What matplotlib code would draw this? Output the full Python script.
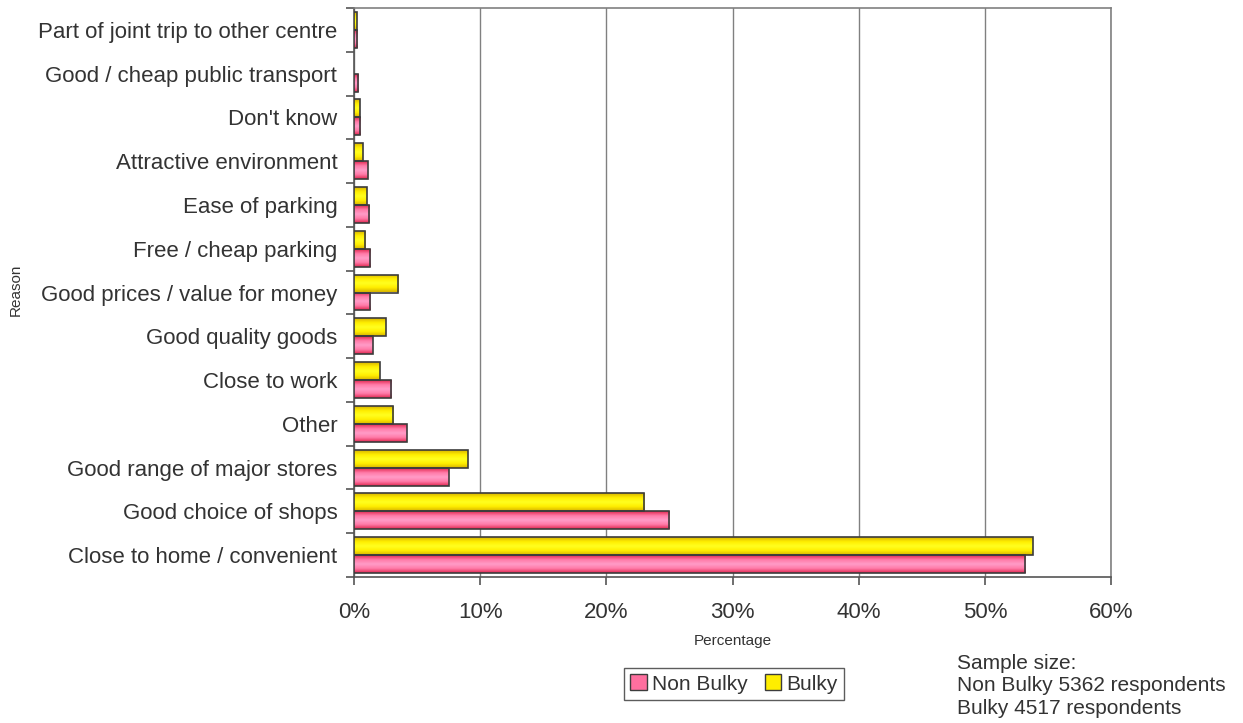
import numpy as np
import matplotlib
matplotlib.use('Agg')
import matplotlib.pyplot as plt
from matplotlib.patches import Rectangle, Patch
from matplotlib.colors import LinearSegmentedColormap

plt.rcParams['font.family'] = ['Liberation Sans', 'DejaVu Sans']

# Reasons for choosing the centre (bottom to top)
reasons = ['Close to home / convenient', 'Good choice of shops',
           'Good range of major stores', 'Other', 'Close to work',
           'Good quality goods', 'Good prices / value for money',
           'Free / cheap parking', 'Ease of parking', 'Attractive environment',
           "Don't know", 'Good / cheap public transport',
           'Part of joint trip to other centre']
non_bulky = [53.2, 25.0, 7.5, 4.2, 2.95, 1.5, 1.3, 1.3, 1.2, 1.1, 0.5, 0.35, 0.25]
bulky = [53.8, 23.0, 9.0, 3.1, 2.05, 2.5, 3.5, 0.9, 1.0, 0.7, 0.45, 0.0, 0.2]
x_ticks = [0, 10, 20, 30, 40, 50, 60]

text_col = '#333333'
pink_cmap = LinearSegmentedColormap.from_list(
    'pink', ['#e02850', '#ff7aa8', '#ff9cc8', '#ff7aa8', '#e02850'])
yellow_cmap = LinearSegmentedColormap.from_list(
    'yellow', ['#d8b400', '#ffee00', '#ffff20', '#ffee00', '#d8b400'])

fig = plt.figure(figsize=(12.43, 7.23), dpi=100)
ax = fig.add_axes([354 / 1243, 1 - 577 / 723, 757 / 1243, 569 / 723])

grad = np.linspace(0, 1, 64).reshape(-1, 1)
bar_h = 0.41
y = np.arange(len(reasons))


def gradient_barh(ypos, vals, cmap):
    for yy, v in zip(ypos, vals):
        if v <= 0:
            continue
        rect = Rectangle((0, yy - bar_h / 2), v, bar_h, facecolor='none',
                         edgecolor='#3c3c3c', linewidth=1.2, zorder=4)
        ax.add_patch(rect)
        im = ax.imshow(grad, cmap=cmap, aspect='auto', origin='lower',
                       extent=(0, v, yy - bar_h / 2, yy + bar_h / 2),
                       zorder=3, interpolation='bilinear')
        im.set_clip_path(rect)


gradient_barh(y - bar_h / 2, non_bulky, pink_cmap)
gradient_barh(y + bar_h / 2, bulky, yellow_cmap)

ax.set_xlim(0, 60)
ax.set_ylim(-0.5, len(reasons) - 0.5)
ax.set_aspect('auto')
ax.set_xticks(x_ticks)
ax.set_xticklabels([f'{t}%' for t in x_ticks], fontsize=16, color=text_col)
ax.grid(axis='x', color='#808080', linewidth=1.0, zorder=0)
ax.set_axisbelow(True)

ax.set_yticks(y)
ax.set_yticklabels(reasons, fontsize=16, color=text_col)
ax.tick_params(axis='y', which='major', length=0, pad=12)
ax.set_yticks(np.arange(-0.5, len(reasons)), minor=True)
ax.tick_params(axis='y', which='minor', length=6, color='#555555', width=1.2)
ax.tick_params(axis='x', length=6, color='#555555', width=1.2, pad=12)

for s in ax.spines.values():
    s.set_color('#808080')
    s.set_linewidth(1.2)
ax.spines['left'].set_color('#555555')
ax.spines['bottom'].set_color('#555555')

ax.set_xlabel('Percentage', fontsize=11, color=text_col, labelpad=8)
fig.text(16 / 1243, 1 - 290 / 723, 'Reason', rotation=90, fontsize=11,
         color=text_col, ha='center', va='center')

handles = [Patch(facecolor='#ff6f9f', edgecolor='#3c3c3c', label='Non Bulky'),
           Patch(facecolor='#ffee00', edgecolor='#3c3c3c', label='Bulky')]
leg = fig.legend(handles=handles, loc='center', ncol=2,
                 bbox_to_anchor=(734 / 1243, 1 - 684 / 723), fontsize=15,
                 frameon=True, fancybox=False, edgecolor='#333333',
                 handlelength=0.8, handleheight=0.8, handletextpad=0.25,
                 columnspacing=0.8, borderpad=0.3, borderaxespad=0)
leg.get_frame().set_linewidth(1.0)
for t in leg.get_texts():
    t.set_color(text_col)

fig.text(957 / 1243, 1 - 654 / 723,
         'Sample size:\nNon Bulky 5362 respondents\nBulky 4517 respondents',
         fontsize=15, color=text_col, ha='left', va='top', linespacing=1.22)

fig.savefig('out.png', dpi=100)
